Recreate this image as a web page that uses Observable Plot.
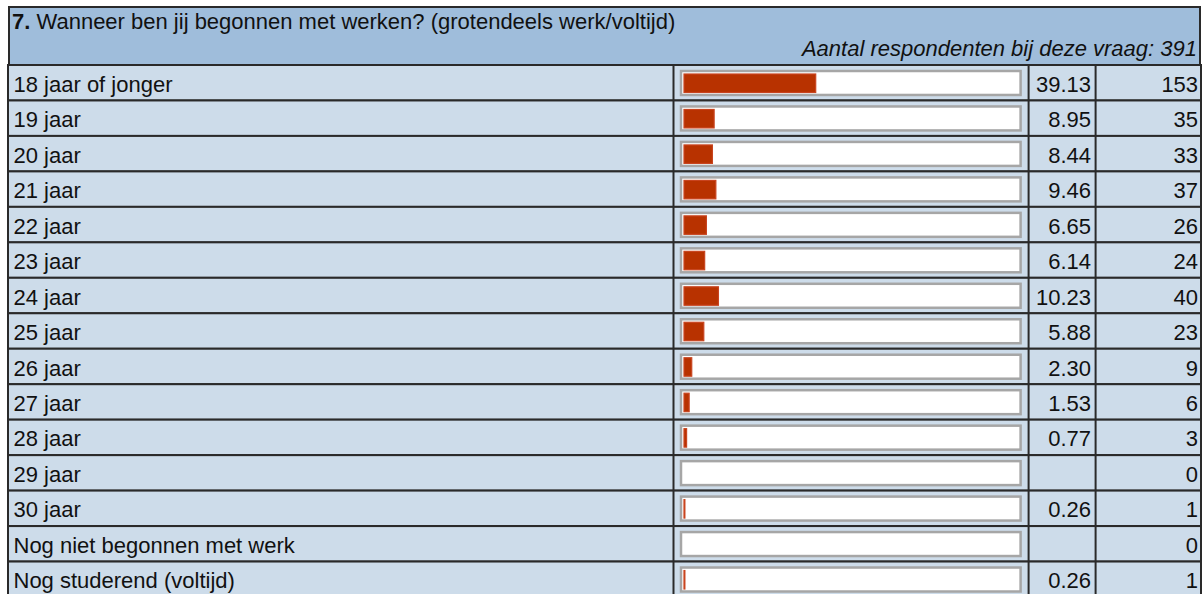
<!DOCTYPE html>
<html>
<head>
<meta charset="utf-8">
<script src="https://cdn.jsdelivr.net/npm/d3@7"></script>
<script src="https://cdn.jsdelivr.net/npm/@observablehq/plot@0.6"></script>
<style>
  html, body { margin: 0; padding: 0; background: #ffffff; overflow: hidden; width: 1204px; height: 594px; }
  body { font-family: "Liberation Sans", Arial, sans-serif; position: relative; }
  #header {
    position: absolute; left: 8px; top: 6px; width: 1193px; height: 59px;
    box-sizing: border-box; background: #9fbddb;
    border: 2px solid #2a2a2a; border-bottom: none;
    color: #111;
  }
  #title { position: absolute; left: 2px; top: 1px; font-size: 22px; white-space: nowrap; }
  #subtitle { position: absolute; right: 2px; top: 28px; font-size: 22px; font-style: italic; white-space: nowrap; }
  #chart { position: absolute; left: 0; top: 63px; line-height: 0; }
  #chart svg { display: block; }
</style>
</head>
<body>
<div id="header">
  <div id="title"><b>7.</b> Wanneer ben jij begonnen met werken? (grotendeels werk/voltijd)</div>
  <div id="subtitle">Aantal respondenten bij deze vraag: 391</div>
</div>
<div id="chart"></div>
<script>
const categories = [
  "18 jaar of jonger", "19 jaar", "20 jaar", "21 jaar", "22 jaar", "23 jaar",
  "24 jaar", "25 jaar", "26 jaar", "27 jaar", "28 jaar", "29 jaar", "30 jaar",
  "Nog niet begonnen met werk", "Nog studerend (voltijd)"
];
const percentages = [39.13, 8.95, 8.44, 9.46, 6.65, 6.14, 10.23, 5.88, 2.30, 1.53, 0.77, 0, 0.26, 0, 0.26];
const counts = [153, 35, 33, 37, 26, 24, 40, 23, 9, 6, 3, 0, 1, 0, 1];

const rows = categories.map((c, i) => ({label: c, pct: percentages[i], n: counts[i]}));
const nonZero = rows.filter(d => d.pct > 0);

const plot = Plot.plot({
  width: 1204,
  height: 534,
  marginLeft: 8,
  marginRight: 3,
  marginTop: 2,
  marginBottom: 0,
  style: {fontFamily: "'Liberation Sans', Arial, sans-serif", background: "transparent", color: "#111"},
  x: {domain: [0, 100], range: [684, 1020.6], axis: null},
  y: {domain: categories, padding: 0, round: false, axis: null},
  marks: [
    Plot.cell(rows, {y: "label", fill: "#cddcea", stroke: "#2a2a2a", strokeWidth: 2}),
    Plot.ruleX([0], {dx: -11, stroke: "#2a2a2a", strokeWidth: 2}),
    Plot.ruleX([100], {dx: 7.5, stroke: "#2a2a2a", strokeWidth: 2}),
    Plot.ruleX([100], {dx: 74.5, stroke: "#2a2a2a", strokeWidth: 2}),
    Plot.barX(rows, {y: "label", x1: () => 0, x2: () => 100, fill: "#ffffff", stroke: "#a6a6a6", strokeWidth: 2.5, insetLeft: -3, insetTop: 6, insetBottom: 5.5}),
    Plot.barX(nonZero, {y: "label", x1: () => 0, x2: "pct", fill: "#b83200", stroke: "#c8441f", strokeWidth: 1.2, insetTop: 9, insetBottom: 8}),
    Plot.text(rows, {y: "label", text: "label", frameAnchor: "left", dx: 5, dy: 1.5, textAnchor: "start", fontSize: 22, fill: "#111"}),
    Plot.text(nonZero, {y: "label", x: () => 100, text: d => d.pct.toFixed(2), dx: 70, dy: 1.5, textAnchor: "end", fontSize: 22, fill: "#111"}),
    Plot.text(rows, {y: "label", x: () => 100, text: d => String(d.n), dx: 177, dy: 1.5, textAnchor: "end", fontSize: 22, fill: "#111"})
  ]
});
document.getElementById("chart").appendChild(plot);
</script>
</body>
</html>
